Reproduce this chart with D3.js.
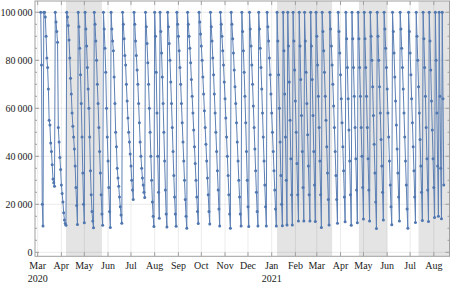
<!DOCTYPE html>
<html><head><meta charset="utf-8">
<script src="https://cdn.jsdelivr.net/npm/d3@7"></script>
<style>body{margin:0;background:#fff}svg{display:block}</style>
</head><body>
<script>
// values in thousands (UNIT); each cycle starts at its peak date, then one value per day
const UNIT = 1000;
const peakDates2020 = ["2020-03-05","2020-03-09","2020-03-24","2020-04-08","2020-04-23","2020-05-02","2020-05-14","2020-05-26","2020-06-05","2020-06-20","2020-07-05","2020-07-20","2020-08-01","2020-08-08","2020-08-18","2020-08-30","2020-09-13","2020-09-28","2020-10-13","2020-10-26","2020-11-09","2020-11-23","2020-12-03","2020-12-15","2020-12-26"];
const dailyValues2020 = [
  [100,78,20,11],
  [100,100,98,90,81,77,68,55,53,45.5,42,36.5,30.5,29,27.5],
  [100,96,92,87.5,52,46,39.5,34.5,28,24.5,21,16.5,13.5,12,11.3],
  [100,98,94.5,88.5,81,72.5,66,58,52.5,48,43,36,27,19.5,11.6],
  [100,94,85,74,62,48,33,20,12.3],
  [100,93,86,77,68,60,48,34,24,17,13,10.2],
  [100,95,88,80,70,62,52,42,33,24,16,11.3],
  [100,93,85,75,60,48,38,27,17,10.3],
  [100,93,88,84,73,62,50,44,35,31,27.5,23,19,15.5,12.1],
  [100,95,89,82,78,70,63,56,50,46,41,36,30,26,22],
  [100,95,88,82,76,70,62,54,46,40,35,31,28,25,22.8],
  [100,94,87,79,70,60,50,40,30,21,15,10.7],
  [100,90,75,58,40,25,14.2],
  [100,92,83,73,62,50,38,26,16,10.5],
  [100,94,87,80,71,62,52,42,32,23,16,10.9],
  [100,95,90,84,77,70,62,54,46,38,30,22,15,10],
  [100,95,90,85,79,72,65,58,51,44,37,30,23,17,12],
  [100,96,91,86,80,73,66,59,52,45,38,31,24,17,11.8],
  [100,94,88,81,74,66,58,50,42,34,26,18,11],
  [100,95,90,84,78,71,64,56,48,40,32,24,16,10],
  [100,95,89,83,76,69,62,54,46,38,30,23,16,11],
  [100,92,84,75,65,54,42,30,19,10.7],
  [100,93,86,78,70,61,52,43,34,25,17,11],
  [100,93,85,77,68,58,48,38,28,19,11],
  [100,94,88,81,74,66,58,50,42,34,26,18,11]
];
const peakDates2021 = ["2021-01-08","2021-01-16","2021-01-22","2021-01-29","2021-02-06","2021-02-13","2021-02-21","2021-02-28","2021-03-08","2021-03-18","2021-03-29","2021-04-08","2021-04-16","2021-04-24","2021-05-02","2021-05-10","2021-05-19","2021-05-28","2021-06-08","2021-06-18","2021-06-29","2021-07-09","2021-07-18","2021-07-26","2021-08-03","2021-08-08","2021-08-12"];
const dailyValues2021 = [
  [100,88,74,60,46,32,20,11.1],
  [100,84,66,48,30,11.4],
  [100,86,71,55,39,24,11.4],
  [100,88,76,63,50,37,24,13],
  [100,86,72,57,42,27,13],
  [100,88,75,62,49,36,24,13],
  [100,86,72,57,42,28,12.8],
  [100,90,78,65,52,38,24,10.3],
  [100,92,84,75,65,55,44,33,22,11.4],
  [100,93,86,78,70,61,52,42,32,22,12.1],
  [100,92,83,74,64,54,44,34,23,12.7],
  [100,89,77,64,51,38,24,11.3],
  [100,89,77,65,52,39,26,12.3],
  [100,89,77,65,52,40,27,13.9],
  [100,89,77,65,52,39,26,13],
  [100,90,80,69,57,45,33,21,9.9],
  [100,90,80,69,58,47,36,25,13.5],
  [100,93,85,77,68,58,48,38,28,19,11.5],
  [100,92,83,73,63,53,43,33,23,13],
  [100,93,85,77,68,58,48,38,28,18,10],
  [100,92,83,74,64,54,44,34,23,12.4],
  [100,90,80,69,58,47,36,25,13.2],
  [100,89,77,65,52,39,26,12.8],
  [100,88,76,63,51,39,27,14.5],
  [100,80,58,36,15],
  [100,65,35,14],
  [100,64,28]
];
const shadedPeriods = [["2020-04-07","2020-05-24"],["2021-01-08","2021-03-21"],["2021-04-25","2021-06-01"],["2021-07-12","2021-08-22"]];
const yTickValues = [0,20000,40000,60000,80000,100000];
const yearLabels = [["2020-03-01","2020"],["2021-01-01","2021"]];
const dateDomain = ["2020-02-26T12:00","2021-08-21T12:00"];

const W=452,H=286;
const F={l:35,r:449.5,t:1,b:256.3};
const parse=d3.timeParse("%Y-%m-%d");
const parseT=d3.timeParse("%Y-%m-%dT%H:%M");

function expand(starts, vals){
  const out=[];
  starts.forEach((s,i)=>{
    const t0=parse(s);
    vals[i].forEach((v,j)=>out.push({t:d3.timeDay.offset(t0,j),v:v*UNIT}));
  });
  return out;
}
const data=expand(peakDates2020,dailyValues2020).concat(expand(peakDates2021,dailyValues2021));

const x=d3.scaleTime().domain(dateDomain.map(parseT)).range([F.l,F.r]);
const y=d3.scaleLinear().domain([0,100000]).range([252.3,12.3]);

const svg=d3.select("body").append("svg").attr("width",W).attr("height",H);
svg.append("defs").append("clipPath").attr("id","clip").append("rect")
  .attr("x",F.l).attr("y",F.t).attr("width",F.r-F.l).attr("height",F.b-F.t);

const plot=svg.append("g").attr("clip-path","url(#clip)");
plot.selectAll("rect.band").data(shadedPeriods).join("rect").attr("class","band")
  .attr("x",d=>x(parse(d[0]))).attr("width",d=>x(parse(d[1]))-x(parse(d[0])))
  .attr("y",F.t).attr("height",F.b-F.t).attr("fill","#e4e4e4");

const months=d3.timeMonth.range(parse("2020-03-01"),parse("2021-08-02"));
plot.selectAll("line.vg").data(months).join("line").attr("class","vg")
  .attr("x1",d=>x(d)).attr("x2",d=>x(d)).attr("y1",F.t).attr("y2",F.b)
  .attr("stroke","#000").attr("stroke-opacity",0.08).attr("stroke-width",1);
plot.selectAll("line.hg").data(yTickValues).join("line").attr("class","hg")
  .attr("x1",F.l).attr("x2",F.r).attr("y1",d=>y(d)).attr("y2",d=>y(d))
  .attr("stroke","#000").attr("stroke-opacity",0.08).attr("stroke-width",1);

const line=d3.line().x(d=>x(d.t)).y(d=>y(d.v));
plot.append("path").datum(data).attr("d",line).attr("fill","none")
  .attr("stroke","#5E81B5").attr("stroke-width",1).attr("stroke-linejoin","round");
plot.selectAll("circle").data(data).join("circle")
  .attr("cx",d=>x(d.t)).attr("cy",d=>y(d.v)).attr("r",1.5).attr("fill","#5077B0");

// frame
const fc="#a0a0a0";
svg.append("rect").attr("x",F.l).attr("y",F.t).attr("width",F.r-F.l).attr("height",F.b-F.t)
  .attr("fill","none").attr("stroke",fc).attr("stroke-width",1);

const loc=d3.formatLocale({decimal:".",thousands:"\u2009",grouping:[3],currency:["",""]});
const fmt=loc.format(",");
const tickG=svg.append("g");
// y ticks
const yMinor=d3.range(0,100001,5000).filter(v=>v%20000!==0);
[F.l,F.r].forEach((xx,k)=>{
  const dir=k===0?1:-1;
  tickG.selectAll(null).data(yTickValues).join("line")
    .attr("x1",xx).attr("x2",xx+dir*4).attr("y1",d=>y(d)).attr("y2",d=>y(d)).attr("stroke",fc);
  tickG.selectAll(null).data(yMinor).join("line")
    .attr("x1",xx).attr("x2",xx+dir*2).attr("y1",d=>y(d)).attr("y2",d=>y(d)).attr("stroke",fc);
});
[F.b,F.t].forEach((yy,k)=>{
  const dir=k===0?-1:1;
  tickG.selectAll(null).data(months).join("line")
    .attr("x1",d=>x(d)).attr("x2",d=>x(d)).attr("y1",yy).attr("y2",yy+dir*4).attr("stroke",fc);
});

const txt=svg.append("g").attr("font-family","'Liberation Serif','Times New Roman',serif")
  .attr("font-size",10).attr("fill","#1a1a1a");
txt.selectAll("text.yl").data(yTickValues).join("text").attr("class","yl")
  .attr("x",32.5).attr("y",d=>y(d)).attr("dy","0.34em").attr("text-anchor","end").text(d=>fmt(d));
const mf=d3.timeFormat("%b");
txt.selectAll("text.xl").data(months).join("text").attr("class","xl")
  .attr("x",d=>x(d)).attr("y",268.5).attr("text-anchor","middle").text(d=>mf(d));
txt.selectAll("text.yr").data(yearLabels).join("text").attr("class","yr")
  .attr("x",d=>x(parse(d[0]))).attr("y",281.5).attr("text-anchor","middle").text(d=>d[1]);
</script>
</body></html>
